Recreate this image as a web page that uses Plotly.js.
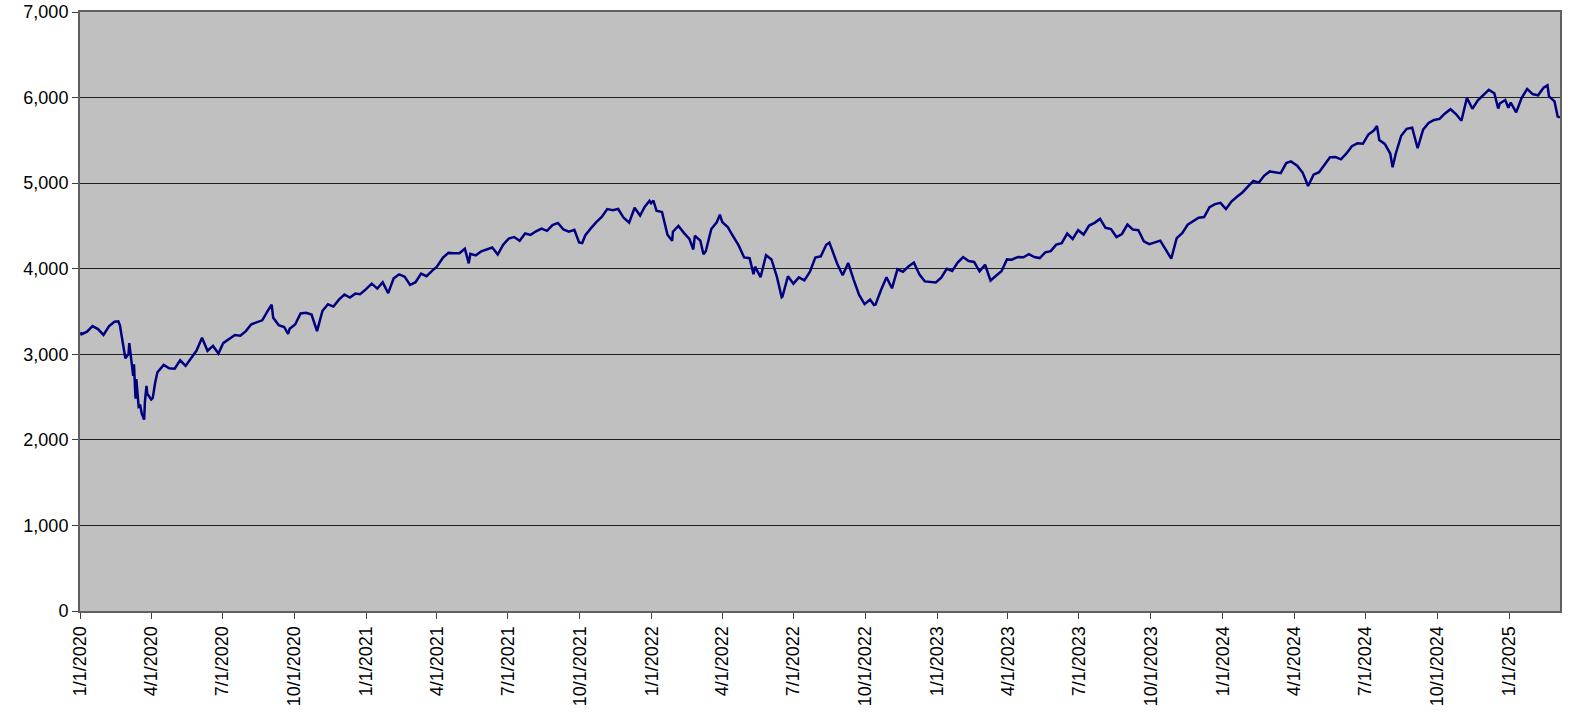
<!DOCTYPE html>
<html>
<head>
<meta charset="utf-8">
<script src="https://cdn.plot.ly/plotly-3.0.1.min.js"></script>
<style>
  html, body { margin: 0; padding: 0; background: #fff; }
  #chart { width: 1570px; height: 715px; }
</style>
</head>
<body>
<div id="chart"></div>
<script>
// weekly closes (a few extra days around the 2020 drop)
const dates = [
  "2020-01-02","2020-01-03","2020-01-10","2020-01-17","2020-01-24","2020-01-31","2020-02-07","2020-02-14","2020-02-19","2020-02-21","2020-02-28",
  "2020-03-03","2020-03-04","2020-03-06","2020-03-09","2020-03-10","2020-03-11","2020-03-12","2020-03-13","2020-03-16","2020-03-18","2020-03-20",
  "2020-03-23","2020-03-24","2020-03-26","2020-03-27","2020-04-01","2020-04-03","2020-04-06","2020-04-09","2020-04-17","2020-04-24",
  "2020-05-01","2020-05-08","2020-05-15","2020-05-22","2020-05-29","2020-06-05","2020-06-12","2020-06-19","2020-06-26","2020-07-02","2020-07-10",
  "2020-07-17","2020-07-24","2020-07-31","2020-08-07","2020-08-14","2020-08-21","2020-08-28","2020-09-02","2020-09-04","2020-09-11","2020-09-18",
  "2020-09-23","2020-09-25","2020-10-02","2020-10-09","2020-10-16","2020-10-23","2020-10-30","2020-11-06","2020-11-13","2020-11-20","2020-11-27",
  "2020-12-04","2020-12-11","2020-12-18","2020-12-24","2020-12-31",
  "2021-01-08","2021-01-15","2021-01-22","2021-01-29","2021-02-05","2021-02-12","2021-02-19","2021-02-26","2021-03-05","2021-03-12","2021-03-19",
  "2021-03-26","2021-04-01","2021-04-09","2021-04-16","2021-04-23","2021-04-30","2021-05-07","2021-05-12","2021-05-14","2021-05-21","2021-05-28",
  "2021-06-04","2021-06-11","2021-06-18","2021-06-25","2021-07-02","2021-07-09","2021-07-16","2021-07-23","2021-07-30","2021-08-06","2021-08-13",
  "2021-08-20","2021-08-27","2021-09-03","2021-09-10","2021-09-17","2021-09-24","2021-09-30","2021-10-04","2021-10-08","2021-10-15","2021-10-22",
  "2021-10-29","2021-11-05","2021-11-12","2021-11-19","2021-11-26","2021-12-03","2021-12-10","2021-12-17","2021-12-23","2021-12-29","2021-12-31",
  "2022-01-03","2022-01-07","2022-01-14","2022-01-21","2022-01-27","2022-01-28","2022-02-04","2022-02-11","2022-02-18","2022-02-23","2022-02-25",
  "2022-03-04","2022-03-08","2022-03-11","2022-03-18","2022-03-25","2022-03-29","2022-04-01","2022-04-08","2022-04-14","2022-04-22","2022-04-29",
  "2022-05-06","2022-05-11","2022-05-13","2022-05-20","2022-05-27","2022-06-03","2022-06-10","2022-06-16","2022-06-17","2022-06-24","2022-07-01",
  "2022-07-08","2022-07-15","2022-07-22","2022-07-29","2022-08-05","2022-08-12","2022-08-16","2022-08-19","2022-08-26","2022-09-02","2022-09-09",
  "2022-09-16","2022-09-23","2022-09-30","2022-10-07","2022-10-12","2022-10-14","2022-10-21","2022-10-28","2022-11-04","2022-11-11","2022-11-18",
  "2022-11-25","2022-12-02","2022-12-09","2022-12-16","2022-12-23","2022-12-30",
  "2023-01-06","2023-01-13","2023-01-20","2023-01-27","2023-02-03","2023-02-10","2023-02-17","2023-02-24","2023-03-03","2023-03-10","2023-03-17",
  "2023-03-24","2023-03-31","2023-04-06","2023-04-14","2023-04-21","2023-04-28","2023-05-05","2023-05-12","2023-05-19","2023-05-26","2023-06-02",
  "2023-06-09","2023-06-16","2023-06-23","2023-06-30","2023-07-07","2023-07-14","2023-07-21","2023-07-28","2023-08-04","2023-08-11","2023-08-18",
  "2023-08-25","2023-09-01","2023-09-08","2023-09-15","2023-09-22","2023-09-29","2023-10-06","2023-10-13","2023-10-20","2023-10-27","2023-11-03",
  "2023-11-10","2023-11-17","2023-11-24","2023-12-01","2023-12-08","2023-12-15","2023-12-22","2023-12-29",
  "2024-01-05","2024-01-12","2024-01-19","2024-01-26","2024-02-02","2024-02-09","2024-02-16","2024-02-23","2024-03-01","2024-03-08","2024-03-15",
  "2024-03-22","2024-03-28","2024-04-05","2024-04-12","2024-04-19","2024-04-26","2024-05-03","2024-05-10","2024-05-17","2024-05-24","2024-05-31",
  "2024-06-07","2024-06-14","2024-06-21","2024-06-28","2024-07-05","2024-07-12","2024-07-16","2024-07-19","2024-07-26","2024-08-02","2024-08-05",
  "2024-08-09","2024-08-16","2024-08-23","2024-08-30","2024-09-06","2024-09-13","2024-09-20","2024-09-27","2024-10-04","2024-10-11","2024-10-18",
  "2024-10-25","2024-11-01","2024-11-08","2024-11-15","2024-11-22","2024-11-29","2024-12-06","2024-12-13","2024-12-18","2024-12-20","2024-12-27",
  "2024-12-31",
  "2025-01-03","2025-01-10","2025-01-17","2025-01-24","2025-01-31","2025-02-07","2025-02-14","2025-02-19","2025-02-21","2025-02-28","2025-03-04",
  "2025-03-07"
];

const closes = [
  3258,3235,3265,3330,3295,3226,3328,3380,3386,3338,2954,
  3003,3130,2972,2747,2882,2741,2481,2711,2386,2398,2305,
  2237,2447,2630,2541,2471,2489,2664,2790,2875,2837,
  2831,2930,2864,2955,3044,3194,3041,3098,3009,3130,3185,
  3225,3216,3271,3351,3373,3397,3508,3580,3427,3341,3319,
  3237,3298,3348,3477,3484,3465,3270,3509,3585,3558,3638,
  3699,3663,3709,3703,3756,
  3825,3768,3841,3714,3887,3934,3907,3811,3842,3943,3913,
  3975,4020,4129,4185,4180,4181,4233,4063,4174,4156,4204,
  4230,4247,4166,4281,4352,4370,4327,4412,4395,4437,4468,
  4442,4509,4535,4459,4433,4455,4308,4300,4391,4471,4545,
  4605,4697,4683,4698,4595,4538,4712,4621,4726,4793,4766,
  4796,4677,4663,4398,4326,4432,4500,4419,4349,4225,4385,
  4329,4170,4204,4463,4543,4631,4546,4488,4393,4272,4132,
  4123,3935,4024,3901,4158,4109,3901,3667,3675,3912,3825,
  3899,3863,3962,4130,4145,4280,4305,4228,4058,3924,4067,
  3873,3693,3586,3640,3577,3583,3752,3901,3771,3993,3965,
  4026,4072,3934,3852,3845,3840,
  3895,3999,3973,4071,4136,4090,4079,3970,4046,3862,3917,
  3971,4109,4105,4138,4133,4169,4136,4124,4192,4205,4282,
  4299,4410,4348,4450,4399,4505,4536,4582,4478,4464,4370,
  4406,4516,4457,4450,4320,4288,4309,4328,4224,4117,4358,
  4415,4514,4559,4595,4604,4719,4755,4770,
  4697,4784,4840,4891,4959,5027,5006,5089,5137,5124,5117,
  5235,5254,5204,5123,4967,5100,5128,5223,5303,5305,5278,
  5347,5431,5465,5460,5567,5615,5667,5505,5459,5346,5186,
  5344,5554,5635,5648,5408,5626,5703,5738,5751,5815,5864,
  5808,5729,5996,5870,5969,6032,6090,6051,5872,5931,5971,
  5882,
  5942,5827,5997,6101,6041,6026,6115,6144,6013,5955,5778,
  5770
];

const tick_dates = [
  "2020-01-01","2020-04-01","2020-07-01","2020-10-01",
  "2021-01-01","2021-04-01","2021-07-01","2021-10-01",
  "2022-01-01","2022-04-01","2022-07-01","2022-10-01",
  "2023-01-01","2023-04-01","2023-07-01","2023-10-01",
  "2024-01-01","2024-04-01","2024-07-01","2024-10-01",
  "2025-01-01"
];
const tick_labels = [
  "1/1/2020","4/1/2020","7/1/2020","10/1/2020",
  "1/1/2021","4/1/2021","7/1/2021","10/1/2021",
  "1/1/2022","4/1/2022","7/1/2022","10/1/2022",
  "1/1/2023","4/1/2023","7/1/2023","10/1/2023",
  "1/1/2024","4/1/2024","7/1/2024","10/1/2024",
  "1/1/2025"
];

const trace = {
  x: dates,
  y: closes,
  type: "scatter",
  mode: "lines",
  line: { color: "#000080", width: 2.5 },
  hoverinfo: "x+y"
};

const axis_font = { family: "Liberation Sans, Arial, sans-serif", size: 18, color: "#000" };

const layout = {
  width: 1570, height: 715,
  margin: { l: 80, r: 10, t: 12, b: 104, pad: 0 },
  paper_bgcolor: "#ffffff",
  plot_bgcolor: "#c0c0c0",
  showlegend: false,
  xaxis: {
    type: "date",
    range: ["2020-01-01", "2025-03-07"],
    tickvals: tick_dates,
    ticktext: tick_labels,
    tickangle: -90,
    tickfont: axis_font,
    ticks: "outside", ticklen: 6, tickcolor: "#404040", tickwidth: 1,
    showgrid: false, zeroline: false,
    showline: true, linecolor: "#606060", linewidth: 2, mirror: true
  },
  yaxis: {
    range: [0, 7000],
    dtick: 1000,
    tickformat: ",d",
    tickfont: axis_font,
    ticks: "outside", ticklen: 6, tickcolor: "#404040", tickwidth: 1,
    showgrid: true, gridcolor: "#202020", gridwidth: 1,
    zeroline: false,
    showline: true, linecolor: "#606060", linewidth: 2, mirror: true
  }
};

Plotly.newPlot("chart", [trace], layout, { displayModeBar: false, staticPlot: true });
</script>
</body>
</html>
